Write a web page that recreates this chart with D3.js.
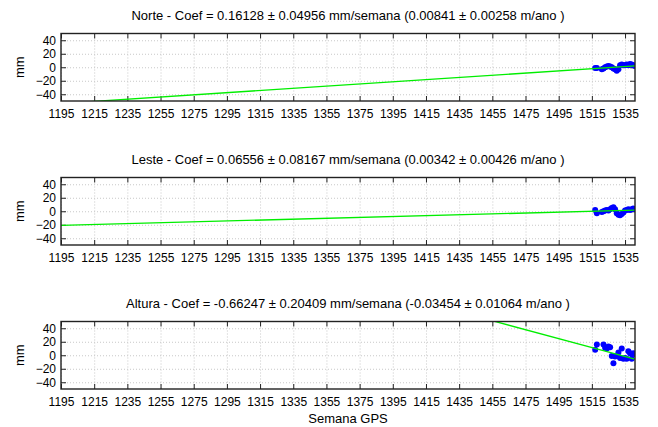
<!DOCTYPE html>
<html>
<head>
<meta charset="utf-8">
<script src="https://cdn.jsdelivr.net/npm/d3@7/dist/d3.min.js"></script>
<style>
  body { margin: 0; background: #fff; }
  svg { font-family: "Liberation Sans", Arial, sans-serif; }
  .grid line { stroke: #c8c8c8; stroke-dasharray: 1,2; }
  .grid path { display: none; }
  .axis path { display: none; }
  .axis line { stroke: #222; }
  .axis text { font-size: 12px; fill: #000; }
</style>
</head>
<body>
<div id="chart"></div>
<script>
// semana GPS ticks / escala
var xTicks = [1195, 1215, 1235, 1255, 1275, 1295, 1315, 1335, 1355, 1375, 1395, 1415, 1435, 1455, 1475, 1495, 1515, 1535];
var yTicks = [-40, -20, 0, 20, 40];
var xDomain = [1195, 1541];
var yDomain = [-50, 50];

var titles = [
    "Norte - Coef = 0.16128 \u00b1 0.04956 mm/semana (0.00841 \u00b1 0.00258 m/ano )",
    "Leste - Coef = 0.06556 \u00b1 0.08167 mm/semana (0.00342 \u00b1 0.00426 m/ano )",
    "Altura - Coef = -0.66247 \u00b1 0.20409 mm/semana (-0.03454 \u00b1 0.01064 m/ano )"
];

// observacoes [semana, mm]
var norte = [[1517, -1], [1518, -1], [1521, -3], [1522, -2], [1523, 0], [1524, 1], [1525, 2], [1526, 1],
    [1527, 0], [1528, -2], [1529, -3], [1530, -5], [1531, -3], [1532, 3], [1533, 4], [1534, 3],
    [1535, 3], [1536, 4], [1537, 3], [1538, 5], [1539, 4], [1540, 3], [1541, 2]];
var leste = [[1517, 2], [1518, -3], [1521, -1], [1522, 0], [1523, 1], [1524, 2], [1525, 1], [1526, 3],
    [1527, 5], [1528, 6], [1529, 3], [1530, -3], [1531, -5], [1532, -6], [1533, -4], [1534, -2],
    [1535, 1], [1536, 2], [1537, 3], [1538, 2], [1539, 3], [1540, 4], [1541, 3]];
var altura = [[1517, 8], [1518, 16], [1522, 16], [1523, 11], [1524, 10], [1525, 13], [1526, 12],
    [1527, -1], [1528, -12], [1529, -2], [1530, -1], [1531, 4], [1532, -4], [1533, 10], [1534, -5],
    [1535, -4], [1536, -5], [1537, 6], [1538, 3], [1539, -5], [1540, 3], [1541, 2]];

// retas ajustadas (extremos)
var fitNorte = [[1195, -53.8], [1541, 2]];
var fitLeste = [[1195, -21], [1541, 1.7]];
var fitAltura = [[1195, 223.5], [1541, -5.9]];

var series = [norte, leste, altura];
var fits = [fitNorte, fitLeste, fitAltura];

var svgWidth = 658, svgHeight = 427;
var svg = d3.select("#chart").append("svg")
    .attr("width", svgWidth)
    .attr("height", svgHeight);

var margin = { left: 61, right: 23 },
    width = svgWidth - margin.left - margin.right,
    height = 67.5,
    panelStep = 144,
    firstTop = 33.5;

var x = d3.scaleLinear().domain(xDomain).range([0, width]);
var y = d3.scaleLinear().domain(yDomain).range([height, 0]);

svg.append("defs").append("clipPath").attr("id", "clip")
    .append("rect").attr("width", width).attr("height", height);

function drawPanel(i) {
    var top = firstTop + panelStep * i;
    var g = svg.append("g")
        .attr("transform", "translate(" + margin.left + "," + top + ")");

    // grade
    g.append("g").attr("class", "grid")
        .call(d3.axisBottom(x).tickValues(xTicks).tickSize(height).tickFormat(""));
    g.append("g").attr("class", "grid")
        .call(d3.axisLeft(y).tickValues(yTicks).tickSize(-width).tickFormat(""));

    // eixos com ticks para dentro
    g.append("g").attr("class", "axis")
        .attr("transform", "translate(0," + height + ")")
        .call(d3.axisBottom(x).tickValues(xTicks).tickSize(-5).tickPadding(8).tickFormat(d3.format("d")));
    g.append("g").attr("class", "axis")
        .call(d3.axisTop(x).tickValues(xTicks).tickSize(-5).tickFormat(""));
    g.append("g").attr("class", "axis")
        .call(d3.axisLeft(y).tickValues(yTicks).tickSize(-5).tickPadding(5));
    g.append("g").attr("class", "axis")
        .attr("transform", "translate(" + width + ",0)")
        .call(d3.axisRight(y).tickValues(yTicks).tickSize(-5).tickFormat(""));

    var plot = g.append("g").attr("clip-path", "url(#clip)");

    plot.selectAll(".dot")
        .data(series[i])
        .enter().append("circle")
        .attr("class", "dot")
        .attr("cx", function (d) { return x(d[0]); })
        .attr("cy", function (d) { return y(d[1]); })
        .attr("r", 3)
        .attr("fill", "#0000ff");

    plot.append("path")
        .datum(fits[i])
        .attr("fill", "none")
        .attr("stroke", "#00ee00")
        .attr("stroke-width", 1.3)
        .attr("d", d3.line().x(function (d) { return x(d[0]); }).y(function (d) { return y(d[1]); }));

    // borda
    g.append("rect")
        .attr("width", width).attr("height", height)
        .attr("fill", "none").attr("stroke", "#222").attr("stroke-width", 1.4);

    svg.append("text")
        .attr("x", margin.left + width / 2)
        .attr("y", top - 14)
        .attr("text-anchor", "middle")
        .style("font-size", "13px")
        .text(titles[i]);

    svg.append("text")
        .attr("transform", "translate(24," + (top + height / 2) + ") rotate(-90)")
        .attr("text-anchor", "middle")
        .style("font-size", "13px")
        .text("mm");
}

[0, 1, 2].forEach(drawPanel);

svg.append("text")
    .attr("x", margin.left + width / 2)
    .attr("y", 423)
    .attr("text-anchor", "middle")
    .style("font-size", "13px")
    .text("Semana GPS");
</script>
</body>
</html>
